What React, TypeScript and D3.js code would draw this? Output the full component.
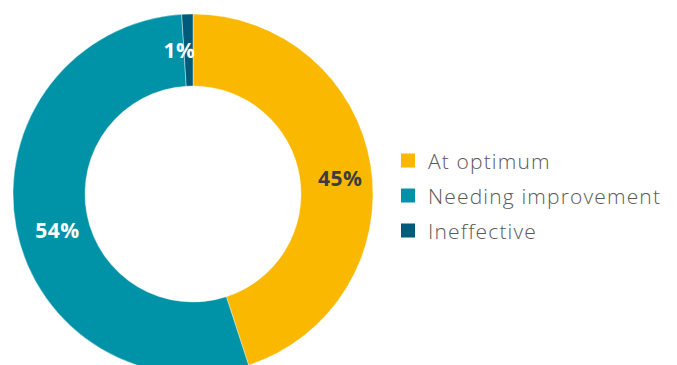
import React from "react";
import * as d3 from "d3";

const categories = ["At optimum", "Needing improvement", "Ineffective"];
const values = [45, 54, 1];
const labels = ["45%", "54%", "1%"];
const colors = ["#FBB800", "#0093A7", "#005B7B"];
const labelColors = ["#3d3d3d", "#ffffff", "#ffffff"];

export default function App() {
  const W = 677, H = 365;
  const cx = 193, cy = 194, R = 180, r = 108;
  const pie = d3.pie<number>().sort(null).value((d) => d)(values);
  const arc = d3.arc<d3.PieArcDatum<number>>().innerRadius(r).outerRadius(R);
  const labelArc = d3.arc<d3.PieArcDatum<number>>().innerRadius(r + 36).outerRadius(R - 36);
  const font = "'Open Sans', 'Noto Sans', sans-serif";
  const legendY = d3.scaleBand<string>().domain(categories).range([143, 248]);
  return (
    <svg width={W} height={H} style={{ position: "absolute", left: 0, top: 0 }}>
      <rect width={W} height={H} fill="#fff" />
      <g transform={`translate(${cx},${cy})`}>
        {pie.map((p, i) => (
          <path key={i} d={arc(p) || ""} fill={colors[i]} stroke="#fff" strokeWidth={0.4} />
        ))}
        {pie.map((p, i) => {
          const [x, y] = labelArc.centroid(p);
          const adj = i === 0 ? [5, 7] : i === 1 ? [6, 9] : [-9, 0];
          return (
            <text key={i} x={x + adj[0]} y={y + adj[1]} textAnchor="middle" dominantBaseline="central"
              fill={labelColors[i]} fontFamily={font} fontWeight={700} fontSize={21} letterSpacing={0.5}>
              {labels[i]}
            </text>
          );
        })}
      </g>
      {categories.map((c, i) => {
        const y = (legendY(c) || 0) + legendY.bandwidth() / 2;
        return (
          <g key={c}>
            <rect x={401} y={y - 7} width={14} height={14} fill={colors[i]} />
            <text x={428} y={y + 0.5} dominantBaseline="central" fill="#5a5a5a" fontFamily={font}
              fontWeight={300} fontSize={21} letterSpacing={1.15}>{c}</text>
          </g>
        );
      })}
    </svg>
  );
}
